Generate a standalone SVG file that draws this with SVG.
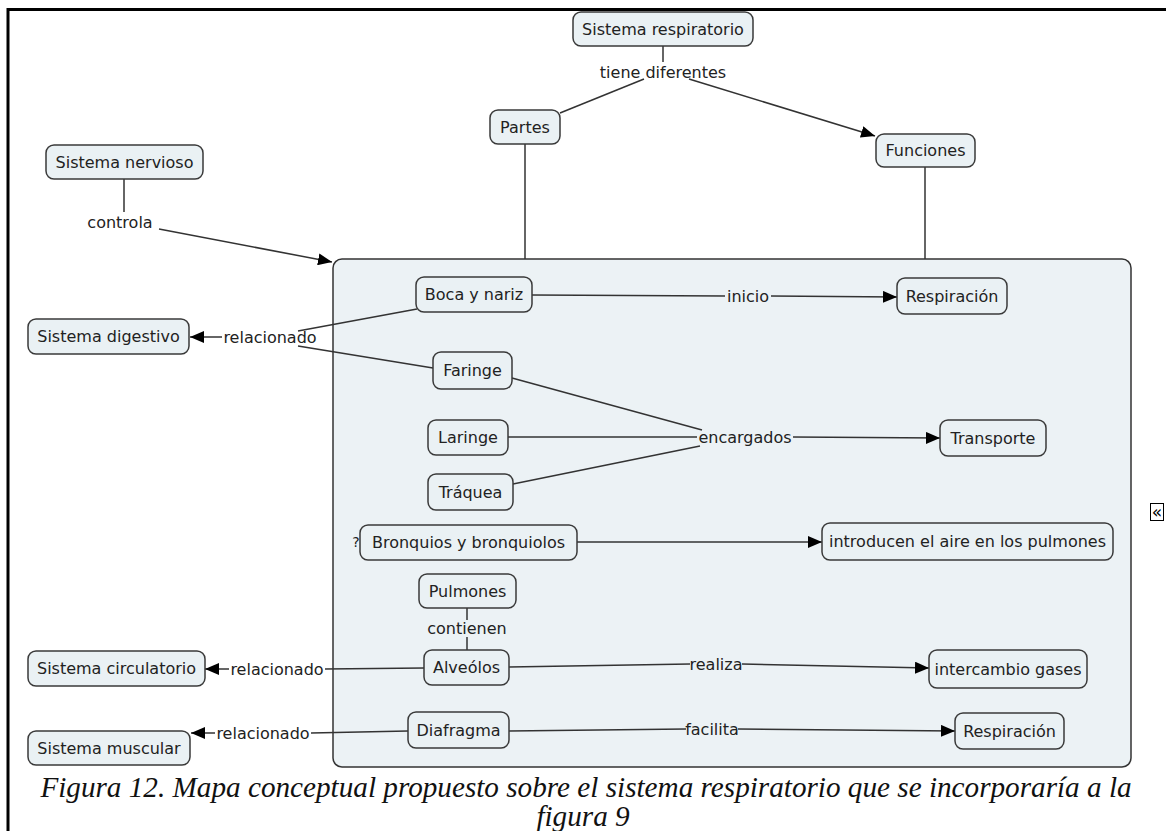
<svg xmlns="http://www.w3.org/2000/svg" width="1166" height="831" viewBox="0 0 1166 831">
  <defs>
    <style>
      .node rect { fill: #eaf1f4; stroke: #3a3a3a; stroke-width: 1.5; }
      .node text, .lbl { font-family: "DejaVu Sans", Verdana, sans-serif; font-size: 16px; fill: #222; text-anchor: middle; }
      .conn line { stroke: #333; stroke-width: 1.5; }
      .cap { font-family: "Liberation Serif", "Times New Roman", serif; font-style: italic; font-size: 29.2px; fill: #111; text-anchor: middle; }
    </style>
    <marker id="arrow" viewBox="0 0 14 12" refX="14" refY="6" markerWidth="14" markerHeight="12" markerUnits="userSpaceOnUse" orient="auto">
      <path d="M0,0 L14,6 L0,12 Z" fill="#000"/>
    </marker>
  </defs>

  <rect width="1166" height="831" fill="#fff"/>
  <!-- page frame -->
  <path d="M8,831 V9.5 H1166" fill="none" stroke="#000" stroke-width="3"/>

  <!-- grouping container for the parts -->
  <rect id="container" x="333" y="259" width="798" height="508" rx="9" fill="#ecf2f5" stroke="#333" stroke-width="1.5"/>

  <g class="conn">
    <line x1="663" y1="46" x2="663" y2="62"/>
    <line x1="644" y1="79" x2="560" y2="113"/>
    <line x1="689" y1="79" x2="875" y2="136" marker-end="url(#arrow)"/>
    <line x1="525" y1="144" x2="525" y2="259"/>
    <line x1="925" y1="167" x2="925" y2="259"/>
    <line x1="124" y1="179" x2="124" y2="212"/>
    <line x1="159" y1="229" x2="332" y2="262" marker-end="url(#arrow)"/>
    <line x1="532" y1="295" x2="725" y2="296"/>
    <line x1="771" y1="296" x2="897" y2="297" marker-end="url(#arrow)"/>
    <line x1="417" y1="309" x2="298" y2="331"/>
    <line x1="433" y1="368" x2="298" y2="346"/>
    <line x1="222" y1="337" x2="190" y2="337" marker-end="url(#arrow)"/>
    <line x1="512" y1="378" x2="702" y2="430"/>
    <line x1="508" y1="437" x2="697" y2="437"/>
    <line x1="513" y1="484" x2="700" y2="446"/>
    <line x1="793" y1="437" x2="940" y2="438" marker-end="url(#arrow)"/>
    <line x1="577" y1="542" x2="822" y2="542" marker-end="url(#arrow)"/>
    <line x1="467" y1="608" x2="467" y2="620"/>
    <line x1="467" y1="637" x2="467" y2="650"/>
    <line x1="509" y1="667" x2="690" y2="664"/>
    <line x1="742" y1="664" x2="929" y2="668" marker-end="url(#arrow)"/>
    <line x1="424" y1="668" x2="325" y2="669"/>
    <line x1="229" y1="669" x2="205" y2="669" marker-end="url(#arrow)"/>
    <line x1="509" y1="731" x2="686" y2="729"/>
    <line x1="738" y1="729" x2="955" y2="731" marker-end="url(#arrow)"/>
    <line x1="408" y1="731" x2="311" y2="733"/>
    <line x1="215" y1="733" x2="191" y2="733" marker-end="url(#arrow)"/>
  </g>

  <g id="labels">
    <text class="lbl" x="663" y="78">tiene diferentes</text>
    <text class="lbl" x="120" y="228">controla</text>
    <text class="lbl" x="748" y="302">inicio</text>
    <text class="lbl" x="270" y="343">relacionado</text>
    <text class="lbl" x="745" y="443">encargados</text>
    <text class="lbl" x="467" y="634">contienen</text>
    <text class="lbl" x="716" y="670">realiza</text>
    <text class="lbl" x="277" y="675">relacionado</text>
    <text class="lbl" x="712" y="735">facilita</text>
    <text class="lbl" x="263" y="739">relacionado</text>
  </g>

  <g id="n-sistema-respiratorio" class="node"><rect x="573" y="12" width="180" height="34" rx="8"/><text x="663" y="35">Sistema respiratorio</text></g>
  <g id="n-partes" class="node"><rect x="490" y="110" width="70" height="34" rx="8"/><text x="525" y="133">Partes</text></g>
  <g id="n-funciones" class="node"><rect x="876" y="134" width="99" height="33" rx="8"/><text x="925.5" y="156">Funciones</text></g>
  <g id="n-sistema-nervioso" class="node"><rect x="46" y="145" width="157" height="34" rx="8"/><text x="124.5" y="168">Sistema nervioso</text></g>
  <g id="n-boca" class="node"><rect x="416" y="277" width="116" height="35" rx="8"/><text x="474" y="300">Boca y nariz</text></g>
  <g id="n-respiracion-1" class="node"><rect x="897" y="278" width="110" height="36" rx="8"/><text x="952" y="302">Respiración</text></g>
  <g id="n-sistema-digestivo" class="node"><rect x="28" y="319" width="161" height="35" rx="8"/><text x="108.5" y="342">Sistema digestivo</text></g>
  <g id="n-faringe" class="node"><rect x="433" y="352" width="79" height="37" rx="8"/><text x="472.5" y="376">Faringe</text></g>
  <g id="n-laringe" class="node"><rect x="428" y="420" width="80" height="35" rx="8"/><text x="468" y="443">Laringe</text></g>
  <g id="n-transporte" class="node"><rect x="940" y="420" width="106" height="36" rx="8"/><text x="993" y="444">Transporte</text></g>
  <g id="n-traquea" class="node"><rect x="428" y="474" width="85" height="36" rx="8"/><text x="470.5" y="498">Tráquea</text></g>
  <g id="n-bronquios" class="node"><rect x="360" y="525" width="217" height="35" rx="8"/><text x="468.5" y="548">Bronquios y bronquiolos</text></g>
  <g id="n-introducen" class="node"><rect x="822" y="523" width="291" height="37" rx="8"/><text x="967.5" y="547">introducen el aire en los pulmones</text></g>
  <g id="n-pulmones" class="node"><rect x="419" y="574" width="97" height="34" rx="8"/><text x="467.5" y="597">Pulmones</text></g>
  <g id="n-alveolos" class="node"><rect x="424" y="650" width="85" height="35" rx="8"/><text x="466.5" y="673">Alveólos</text></g>
  <g id="n-intercambio" class="node"><rect x="929" y="650" width="158" height="38" rx="8"/><text x="1008" y="675">intercambio gases</text></g>
  <g id="n-sistema-circulatorio" class="node"><rect x="28" y="651" width="177" height="35" rx="8"/><text x="116.5" y="674">Sistema circulatorio</text></g>
  <g id="n-diafragma" class="node"><rect x="408" y="712" width="101" height="36" rx="8"/><text x="458.5" y="736">Diafragma</text></g>
  <g id="n-respiracion-2" class="node"><rect x="955" y="713" width="109" height="36" rx="8"/><text x="1009.5" y="737">Respiración</text></g>
  <g id="n-sistema-muscular" class="node"><rect x="28" y="731" width="162" height="34" rx="8"/><text x="109" y="754">Sistema muscular</text></g>

  <!-- small marker beside the bronchi node -->
  <text x="356" y="547" font-family="DejaVu Sans, sans-serif" font-size="14" fill="#222" text-anchor="middle">?</text>

  <!-- collapse toggle on the container edge -->
  <g id="toggle">
    <rect x="1150.5" y="503.5" width="13" height="17" fill="#fff" stroke="#000" stroke-width="1"/>
    <text x="1157" y="518" font-family="DejaVu Sans, sans-serif" font-size="17" fill="#000" text-anchor="middle">«</text>
  </g>

  <text class="cap" x="586" y="797">Figura 12. Mapa conceptual propuesto sobre el sistema respiratorio que se incorporaría a la</text>
  <text class="cap" x="583" y="826">figura 9</text>
</svg>
